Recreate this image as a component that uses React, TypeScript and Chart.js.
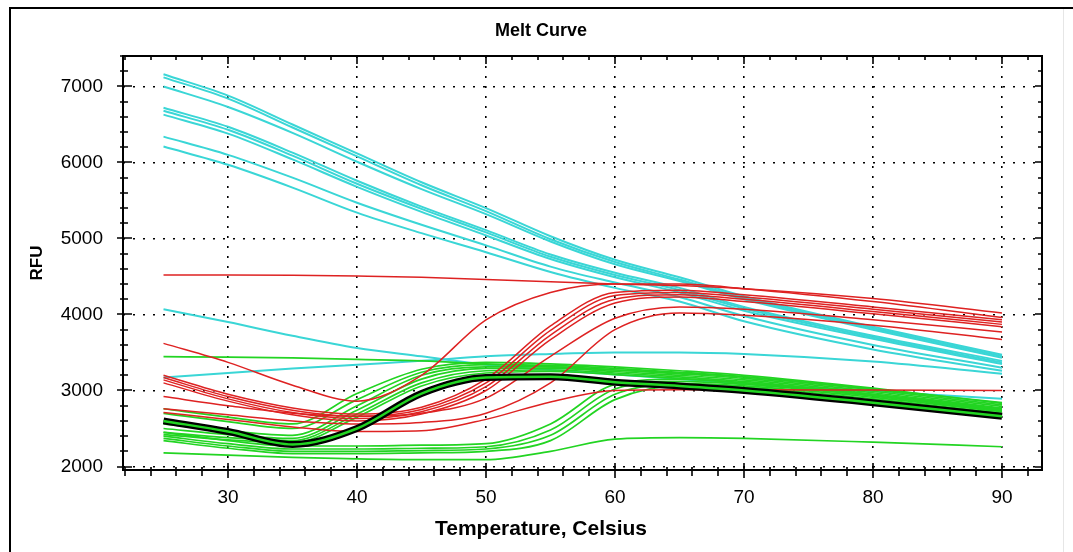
import React, { useEffect, useRef } from 'react';
import { Chart, registerables } from 'chart.js';

Chart.register(...registerables);

// Temperatures (°C) at which each well's fluorescence is sampled
const TEMPERATURES = [25, 30, 35, 40, 45, 50, 55, 60, 65, 70, 80, 90];
const X_TICKS = [30, 40, 50, 60, 70, 80, 90];
const Y_TICKS = [2000, 3000, 4000, 5000, 6000, 7000];
const X_MINOR_STEP = 2;
const Y_MINOR_STEP = 200;

// Cyan wells (RFU)
const cyanA1 = [7160, 6880, 6500, 6120, 5740, 5400, 5030, 4720, 4490, 4240, 3840, 3470];
const cyanA2 = [7120, 6840, 6460, 6080, 5700, 5360, 4990, 4690, 4460, 4220, 3820, 3450];
const cyanA3 = [7000, 6730, 6390, 6010, 5650, 5320, 4960, 4660, 4440, 4200, 3800, 3430];
const cyanB1 = [6720, 6470, 6130, 5760, 5420, 5110, 4790, 4550, 4350, 4100, 3720, 3390];
const cyanB2 = [6680, 6430, 6090, 5720, 5390, 5080, 4760, 4520, 4320, 4080, 3700, 3370];
const cyanB3 = [6630, 6380, 6040, 5680, 5350, 5040, 4730, 4490, 4290, 4050, 3680, 3350];
const cyanC1 = [6340, 6100, 5800, 5470, 5180, 4910, 4630, 4420, 4230, 3980, 3600, 3300];
const cyanC2 = [6210, 5970, 5670, 5340, 5070, 4820, 4560, 4350, 4170, 3910, 3540, 3260];
const cyanD = [4070, 3900, 3720, 3560, 3450, 3340, 3270, 3210, 3150, 3090, 2990, 2890];
const cyanE = [3170, 3230, 3290, 3340, 3390, 3450, 3480, 3500, 3500, 3480, 3380, 3220];

// Red wells (RFU)
const redR1 = [4520, 4520, 4515, 4505, 4490, 4460, 4430, 4400, 4380, 4340, 4210, 4020];
const redR2 = [3620, 3370, 3070, 2860, 3200, 3930, 4290, 4400, 4400, 4340, 4170, 3960];
const redR3a = [3200, 2950, 2770, 2690, 2780, 3150, 3850, 4290, 4320, 4260, 4100, 3930];
const redR3b = [3170, 2920, 2740, 2660, 2750, 3100, 3790, 4250, 4290, 4230, 4070, 3900];
const redR3c = [3140, 2890, 2710, 2630, 2720, 3050, 3730, 4200, 4260, 4200, 4040, 3870];
const redR3d = [3100, 2860, 2680, 2600, 2690, 3000, 3670, 4150, 4230, 4170, 4010, 3840];
const redR4 = [2920, 2800, 2700, 2660, 2700, 2900, 3450, 3950, 4100, 4070, 3930, 3770];
const redR5 = [2710, 2620, 2520, 2460, 2470, 2620, 2850, 3000, 3010, 3010, 3005, 3000];
const redR6 = [2760, 2680, 2600, 2560, 2580, 2700, 3100, 3800, 4020, 3990, 3860, 3670];

// Green wells (RFU)
const greenG1 = [3445, 3440, 3430, 3410, 3390, 3350, 3310, 3270, 3230, 3180, 3020, 2840];
const greenU1 = [2760, 2650, 2560, 2960, 3280, 3370, 3350, 3310, 3260, 3200, 3030, 2830];
const greenU2 = [2700, 2590, 2500, 2880, 3240, 3340, 3330, 3290, 3240, 3180, 3010, 2810];
const greenU3 = [2560, 2470, 2410, 2800, 3200, 3310, 3310, 3270, 3220, 3160, 2990, 2790];
const greenU4 = [2500, 2420, 2370, 2740, 3150, 3290, 3290, 3250, 3200, 3140, 2970, 2770];
const greenU5 = [2450, 2380, 2340, 2690, 3100, 3260, 3270, 3230, 3180, 3120, 2950, 2750];
const greenU6 = [2420, 2350, 2310, 2650, 3060, 3230, 3250, 3210, 3160, 3100, 2930, 2730];
const greenM1 = [2450, 2340, 2270, 2270, 2280, 2300, 2560, 3080, 3150, 3100, 2950, 2760];
const greenM2 = [2400, 2300, 2230, 2230, 2240, 2260, 2480, 3020, 3120, 3080, 2930, 2740];
const greenM3 = [2370, 2270, 2200, 2200, 2210, 2230, 2410, 2950, 3090, 3060, 2910, 2720];
const greenM4 = [2340, 2240, 2170, 2170, 2180, 2200, 2340, 2880, 3060, 3040, 2890, 2700];
const greenL = [2180, 2150, 2120, 2100, 2090, 2090, 2200, 2360, 2380, 2370, 2320, 2260];

// Highlighted (selected) well
const selectedWell = [2600, 2460, 2290, 2500, 2960, 3170, 3180, 3110, 3060, 3000, 2840, 2660];

const CYAN_WELLS = [cyanA1, cyanA2, cyanA3, cyanB1, cyanB2, cyanB3, cyanC1, cyanC2, cyanD, cyanE];
const RED_WELLS = [redR1, redR2, redR3a, redR3b, redR3c, redR3d, redR4, redR5, redR6];
const GREEN_WELLS = [greenG1, greenU1, greenU2, greenU3, greenU4, greenU5, greenU6, greenM1, greenM2, greenM3, greenM4, greenL];

const CYAN = 'rgb(58, 214, 214)';
const RED = 'rgb(222, 34, 34)';
const GREEN = 'rgb(34, 212, 34)';
const FONT = "'Liberation Sans', Arial, sans-serif";

const toPoints = (values: number[]) => TEMPERATURES.map((t, i) => ({ x: t, y: values[i] }));

const wellDataset = (values: number[], color: string, width: number, order: number) => ({
  data: toPoints(values),
  borderColor: color,
  borderWidth: width,
  order,
});

// Axis frame with major/minor tick marks on all four sides
const frameTicks = {
  id: 'frameTicks',
  afterDatasetsDraw(chart: any) {
    const { ctx, chartArea, scales } = chart;
    const { left, right, top, bottom } = chartArea;
    const xs = scales.x;
    const ys = scales.y;
    ctx.save();
    ctx.strokeStyle = '#000';
    ctx.lineWidth = 2;
    ctx.strokeRect(left, top, right - left, bottom - top);
    ctx.lineWidth = 1.6;
    ctx.beginPath();
    const xStart = Math.ceil(xs.min / X_MINOR_STEP) * X_MINOR_STEP;
    for (let t = xStart; t <= xs.max; t += X_MINOR_STEP) {
      const px = Math.round(xs.getPixelForValue(t));
      const major = X_TICKS.includes(t);
      ctx.moveTo(px, bottom - (major ? 7 : 3));
      ctx.lineTo(px, bottom + (major ? 8 : 6));
      ctx.moveTo(px, top);
      ctx.lineTo(px, top + (major ? 8 : 4));
    }
    const yStart = Math.ceil(ys.min / Y_MINOR_STEP) * Y_MINOR_STEP;
    for (let v = yStart; v <= ys.max; v += Y_MINOR_STEP) {
      const py = Math.round(ys.getPixelForValue(v));
      const major = Y_TICKS.includes(v);
      ctx.moveTo(left - (major ? 6 : 3), py);
      ctx.lineTo(left + (major ? 9 : 5), py);
      ctx.moveTo(right, py);
      ctx.lineTo(right - (major ? 7 : 4), py);
    }
    ctx.stroke();
    ctx.restore();
  },
};

export default function App() {
  const canvasRef = useRef<HTMLCanvasElement>(null);

  useEffect(() => {
    const datasets: any[] = [
      ...CYAN_WELLS.map((w) => wellDataset(w, CYAN, 2, 5)),
      ...GREEN_WELLS.map((w) => wellDataset(w, GREEN, 1.7, 4)),
      ...RED_WELLS.map((w) => wellDataset(w, RED, 1.5, 3)),
      wellDataset(selectedWell, '#000', 7, 1),
      wellDataset(selectedWell, GREEN, 2.5, 0),
    ];

    const chart = new Chart(canvasRef.current!, {
      type: 'line',
      data: { datasets },
      options: {
        responsive: false,
        devicePixelRatio: 1,
        animation: false,
        events: [],
        layout: { padding: { left: 40, right: 31, top: 0, bottom: 0 } },
        elements: {
          point: { radius: 0 },
          line: { cubicInterpolationMode: 'monotone', fill: false },
        },
        plugins: {
          legend: { display: false },
          tooltip: { enabled: false },
          title: {
            display: true,
            text: 'Melt Curve',
            color: '#000',
            font: { family: FONT, size: 18, weight: 'bold' },
            padding: { top: 20, bottom: 14.4 },
          },
          subtitle: {
            display: true,
            position: 'bottom',
            text: 'Temperature, Celsius',
            color: '#000',
            font: { family: FONT, size: 21, weight: 'bold' },
            padding: { top: 0, bottom: 10.4 },
          },
        },
        scales: {
          x: {
            type: 'linear',
            min: 21.86,
            max: 93.1,
            afterBuildTicks: (scale: any) => {
              scale.ticks = X_TICKS.map((value) => ({ value }));
            },
            afterFit: (scale: any) => {
              scale.height = 46.4;
            },
            ticks: {
              color: '#000',
              font: { family: FONT, size: 19 },
              padding: 16,
              maxRotation: 0,
              autoSkip: false,
              includeBounds: false,
              callback: (value: any) => String(value),
            },
            grid: { color: '#000', lineWidth: 1.6, drawTicks: false },
            border: { display: false, dash: [2, 8] },
          },
          y: {
            type: 'linear',
            min: 1954,
            max: 7401,
            afterBuildTicks: (scale: any) => {
              scale.ticks = Y_TICKS.map((value) => ({ value }));
            },
            afterFit: (scale: any) => {
              scale.width = 83;
            },
            ticks: {
              color: '#000',
              font: { family: FONT, size: 19 },
              padding: 20,
              autoSkip: false,
              includeBounds: false,
              callback: (value: any) => String(value),
            },
            grid: { color: '#000', lineWidth: 1.6, drawTicks: false },
            border: { display: false, dash: [2, 8] },
            title: {
              display: true,
              text: 'RFU',
              color: '#000',
              font: { family: FONT, size: 17, weight: 'bold' },
              padding: { top: -12.7, bottom: 0 },
            },
          },
        },
      },
      plugins: [frameTicks],
    } as any);

    return () => chart.destroy();
  }, []);

  return (
    <div
      style={{
        position: 'fixed',
        left: 0,
        top: 0,
        width: 1073,
        height: 552,
        background: '#fff',
        overflow: 'hidden',
      }}
    >
      <div style={{ position: 'absolute', left: 9, top: 7, width: 1064, height: 2, background: '#000' }} />
      <div style={{ position: 'absolute', left: 9, top: 7, width: 2, height: 545, background: '#000' }} />
      <div style={{ position: 'absolute', left: 1063, top: 9, width: 1, height: 543, background: '#e6e6e6' }} />
      <canvas
        ref={canvasRef}
        width={1073}
        height={552}
        style={{ position: 'absolute', left: 0, top: 0, width: 1073, height: 552 }}
      />
    </div>
  );
}
